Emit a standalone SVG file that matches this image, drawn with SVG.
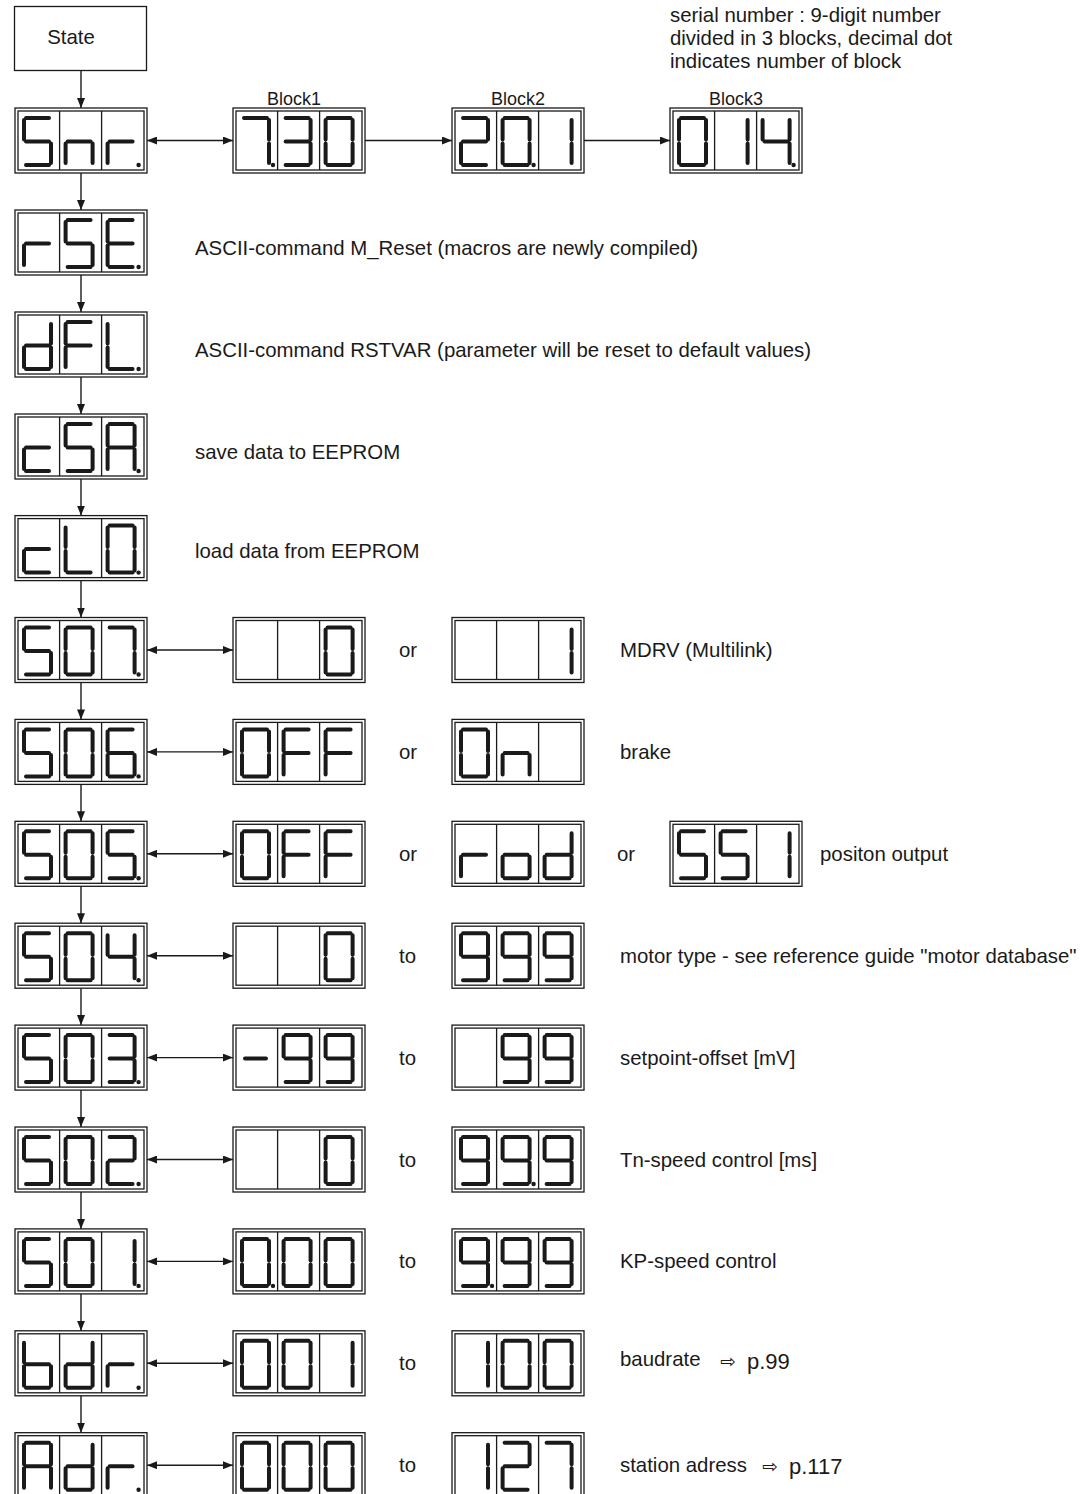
<svg xmlns="http://www.w3.org/2000/svg" width="1090" height="1494" viewBox="0 0 1090 1494">
<style>
.seg{fill:none;stroke:#1a1a1a;stroke-width:4;stroke-linecap:round}
.fr{fill:none;stroke:#1a1a1a;stroke-width:1.3}
.con{fill:none;stroke:#1a1a1a;stroke-width:1.4}
text{font-family:"Liberation Sans",Arial,sans-serif;font-size:20.4px;fill:#1a1a1a}
.blk{font-size:18px}
.sym{font-family:"DejaVu Sans",sans-serif;font-size:19px}
.pg{font-size:22px}
</style>
<defs>
<marker id="ah" viewBox="0 0 10 8" refX="10" refY="4" markerWidth="10" markerHeight="8" markerUnits="userSpaceOnUse" orient="auto-start-reverse"><path d="M0,0L10,4L0,8z" fill="#1a1a1a"/></marker>
<g id="fr"><rect x="0" y="0" width="132" height="65" class="fr"/><rect x="3" y="3" width="126" height="59" class="fr"/><path d="M44.6,3V62M86.6,3V62" class="fr"/></g>
<path id="g5" class="seg" d="M2,0H25M0,2V21.5M2,23.5H25M27,25.5V45M2,47H25"/>
<path id="gn" class="seg" d="M2,23.5H25M0,25.5V45M27,25.5V45"/>
<path id="gr" class="seg" d="M2,23.5H25M0,25.5V45"/>
<path id="g7" class="seg" d="M2,0H25M27,2V21.5M27,25.5V45"/>
<path id="g3" class="seg" d="M2,0H25M27,2V21.5M2,23.5H25M27,25.5V45M2,47H25"/>
<path id="g0" class="seg" d="M2,0H25M27,2V21.5M27,25.5V45M2,47H25M0,25.5V45M0,2V21.5"/>
<path id="g2" class="seg" d="M2,0H25M27,2V21.5M2,23.5H25M0,25.5V45M2,47H25"/>
<path id="g1" class="seg" d="M27,2V21.5M27,25.5V45"/>
<path id="g4" class="seg" d="M0,2V21.5M2,23.5H25M27,2V21.5M27,25.5V45"/>
<path id="gE" class="seg" d="M2,0H25M0,2V21.5M2,23.5H25M0,25.5V45M2,47H25"/>
<path id="gd" class="seg" d="M27,2V21.5M27,25.5V45M2,23.5H25M0,25.5V45M2,47H25"/>
<path id="gF" class="seg" d="M2,0H25M0,2V21.5M2,23.5H25M0,25.5V45"/>
<path id="gL" class="seg" d="M0,2V21.5M0,25.5V45M2,47H25"/>
<path id="gc" class="seg" d="M2,23.5H25M0,25.5V45M2,47H25"/>
<path id="gA" class="seg" d="M2,0H25M27,2V21.5M27,25.5V45M0,25.5V45M0,2V21.5M2,23.5H25"/>
<path id="g6" class="seg" d="M2,0H25M0,2V21.5M2,23.5H25M0,25.5V45M2,47H25M27,25.5V45"/>
<path id="g9" class="seg" d="M2,0H25M27,2V21.5M27,25.5V45M2,47H25M0,2V21.5M2,23.5H25"/>
<path id="gm" class="seg" d="M3,23.5H24"/>
<path id="go" class="seg" d="M2,23.5H25M27,25.5V45M2,47H25M0,25.5V45"/>
<path id="gb" class="seg" d="M0,2V21.5M0,25.5V45M2,23.5H25M27,25.5V45M2,47H25"/>
<circle id="dt" cx="31" cy="47" r="2.2" fill="#1a1a1a"/>
</defs>
<rect width="1090" height="1494" fill="#fff"/>

<g id="state"><rect x="14.5" y="6.5" width="132" height="64" class="fr"/><text x="71" y="44" text-anchor="middle">State</text></g>

<g id="note"><text x="670" y="22">serial number : 9-digit number</text><text x="670" y="45">divided in 3 blocks, decimal dot</text><text x="670" y="68">indicates number of block</text></g>

<g id="labels">
<text class="blk" x="294" y="105" text-anchor="middle">Block1</text>
<text class="blk" x="518" y="105" text-anchor="middle">Block2</text>
<text class="blk" x="736" y="105" text-anchor="middle">Block3</text>
</g>

<g id="connectors">
<path class="con" marker-end="url(#ah)" d="M81,70.5V108"/>
<path class="con" marker-end="url(#ah)" d="M81,173V210"/>
<path class="con" marker-end="url(#ah)" d="M81,275V312"/>
<path class="con" marker-end="url(#ah)" d="M81,377V414"/>
<path class="con" marker-end="url(#ah)" d="M81,479V515.6"/>
<path class="con" marker-end="url(#ah)" d="M81,580.6V617.5"/>
<path class="con" marker-end="url(#ah)" d="M81,682.5V719.4"/>
<path class="con" marker-end="url(#ah)" d="M81,784.4V821.3"/>
<path class="con" marker-end="url(#ah)" d="M81,886.3V923.2"/>
<path class="con" marker-end="url(#ah)" d="M81,988.2V1025.1"/>
<path class="con" marker-end="url(#ah)" d="M81,1090.1V1127"/>
<path class="con" marker-end="url(#ah)" d="M81,1192V1228.9"/>
<path class="con" marker-end="url(#ah)" d="M81,1293.9V1330.8"/>
<path class="con" marker-end="url(#ah)" d="M81,1395.8V1432.7"/>
<path class="con" marker-start="url(#ah)" marker-end="url(#ah)" d="M147,140.5H233"/>
<path class="con" marker-end="url(#ah)" d="M365,140.5H452"/>
<path class="con" marker-end="url(#ah)" d="M584,140.5H670"/>
<path class="con" marker-start="url(#ah)" marker-end="url(#ah)" d="M147,650H233"/>
<path class="con" marker-start="url(#ah)" marker-end="url(#ah)" d="M147,751.9H233"/>
<path class="con" marker-start="url(#ah)" marker-end="url(#ah)" d="M147,853.8H233"/>
<path class="con" marker-start="url(#ah)" marker-end="url(#ah)" d="M147,955.7H233"/>
<path class="con" marker-start="url(#ah)" marker-end="url(#ah)" d="M147,1057.6H233"/>
<path class="con" marker-start="url(#ah)" marker-end="url(#ah)" d="M147,1159.5H233"/>
<path class="con" marker-start="url(#ah)" marker-end="url(#ah)" d="M147,1261.4H233"/>
<path class="con" marker-start="url(#ah)" marker-end="url(#ah)" d="M147,1363.3H233"/>
<path class="con" marker-start="url(#ah)" marker-end="url(#ah)" d="M147,1465.2H233"/>
</g>

<!-- row 0 -->
<g id="snr" transform="translate(15,108)"><use href="#fr"/><use href="#g5" x="9" y="10"/><use href="#gn" x="50.6" y="10"/><use href="#gr" x="92.6" y="10"/><use href="#dt" x="92.6" y="10"/></g>
<g id="block1" transform="translate(233,108)"><use href="#fr"/><use href="#g7" x="9" y="10"/><use href="#dt" x="9" y="10"/><use href="#g3" x="50.6" y="10"/><use href="#g0" x="92.6" y="10"/></g>
<g id="block2" transform="translate(452,108)"><use href="#fr"/><use href="#g2" x="9" y="10"/><use href="#g0" x="50.6" y="10"/><use href="#dt" x="50.6" y="10"/><use href="#g1" x="92.6" y="10"/></g>
<g id="block3" transform="translate(670,108)"><use href="#fr"/><use href="#g0" x="9" y="10"/><use href="#g1" x="50.6" y="10"/><use href="#g4" x="92.6" y="10"/><use href="#dt" x="92.6" y="10"/></g>

<!-- row 1-4 -->
<g id="rse" transform="translate(15,210)"><use href="#fr"/><use href="#gr" x="9" y="10"/><use href="#g5" x="50.6" y="10"/><use href="#gE" x="92.6" y="10"/><use href="#dt" x="92.6" y="10"/></g>
<text x="195" y="254.5">ASCII-command M_Reset (macros are newly compiled)</text>
<g id="dfl" transform="translate(15,312)"><use href="#fr"/><use href="#gd" x="9" y="10"/><use href="#gF" x="50.6" y="10"/><use href="#gL" x="92.6" y="10"/><use href="#dt" x="92.6" y="10"/></g>
<text x="195" y="356.5">ASCII-command RSTVAR (parameter will be reset to default values)</text>
<g id="csa" transform="translate(15,414)"><use href="#fr"/><use href="#gc" x="9" y="10"/><use href="#g5" x="50.6" y="10"/><use href="#gA" x="92.6" y="10"/><use href="#dt" x="92.6" y="10"/></g>
<text x="195" y="458.5">save data to EEPROM</text>
<g id="cl0" transform="translate(15,515.6)"><use href="#fr"/><use href="#gc" x="9" y="10"/><use href="#gL" x="50.6" y="10"/><use href="#g0" x="92.6" y="10"/><use href="#dt" x="92.6" y="10"/></g>
<text x="195" y="558">load data from EEPROM</text>

<!-- row 5 S07 -->
<g id="s07" transform="translate(15,617.5)"><use href="#fr"/><use href="#g5" x="9" y="10"/><use href="#g0" x="50.6" y="10"/><use href="#g7" x="92.6" y="10"/><use href="#dt" x="92.6" y="10"/></g>
<g id="s07a" transform="translate(233,617.5)"><use href="#fr"/><use href="#g0" x="92.6" y="10"/></g>
<text x="399" y="657">or</text>
<g id="s07b" transform="translate(452,617.5)"><use href="#fr"/><use href="#g1" x="92.6" y="10"/></g>
<text x="620" y="657">MDRV (Multilink)</text>

<!-- row 6 S06 -->
<g id="s06" transform="translate(15,719.4)"><use href="#fr"/><use href="#g5" x="9" y="10"/><use href="#g0" x="50.6" y="10"/><use href="#g6" x="92.6" y="10"/><use href="#dt" x="92.6" y="10"/></g>
<g id="s06a" transform="translate(233,719.4)"><use href="#fr"/><use href="#g0" x="9" y="10"/><use href="#gF" x="50.6" y="10"/><use href="#gF" x="92.6" y="10"/></g>
<text x="399" y="759">or</text>
<g id="s06b" transform="translate(452,719.4)"><use href="#fr"/><use href="#g0" x="9" y="10"/><use href="#gn" x="50.6" y="10"/></g>
<text x="620" y="759">brake</text>

<!-- row 7 S05 -->
<g id="s05" transform="translate(15,821.3)"><use href="#fr"/><use href="#g5" x="9" y="10"/><use href="#g0" x="50.6" y="10"/><use href="#g5" x="92.6" y="10"/><use href="#dt" x="92.6" y="10"/></g>
<g id="s05a" transform="translate(233,821.3)"><use href="#fr"/><use href="#g0" x="9" y="10"/><use href="#gF" x="50.6" y="10"/><use href="#gF" x="92.6" y="10"/></g>
<text x="399" y="861">or</text>
<g id="s05b" transform="translate(452,821.3)"><use href="#fr"/><use href="#gr" x="9" y="10"/><use href="#go" x="50.6" y="10"/><use href="#gd" x="92.6" y="10"/></g>
<text x="617" y="861">or</text>
<g id="s05c" transform="translate(670,821.3)"><use href="#fr"/><use href="#g5" x="9" y="10"/><use href="#g5" x="50.6" y="10"/><use href="#g1" x="92.6" y="10"/></g>
<text x="820" y="861">positon output</text>

<!-- row 8 S04 -->
<g id="s04" transform="translate(15,923.2)"><use href="#fr"/><use href="#g5" x="9" y="10"/><use href="#g0" x="50.6" y="10"/><use href="#g4" x="92.6" y="10"/><use href="#dt" x="92.6" y="10"/></g>
<g id="s04a" transform="translate(233,923.2)"><use href="#fr"/><use href="#g0" x="92.6" y="10"/></g>
<text x="399" y="963">to</text>
<g id="s04b" transform="translate(452,923.2)"><use href="#fr"/><use href="#g9" x="9" y="10"/><use href="#g9" x="50.6" y="10"/><use href="#g9" x="92.6" y="10"/></g>
<text x="620" y="963">motor type - see reference guide "motor database"</text>

<!-- row 9 S03 -->
<g id="s03" transform="translate(15,1025.1)"><use href="#fr"/><use href="#g5" x="9" y="10"/><use href="#g0" x="50.6" y="10"/><use href="#g3" x="92.6" y="10"/><use href="#dt" x="92.6" y="10"/></g>
<g id="s03a" transform="translate(233,1025.1)"><use href="#fr"/><use href="#gm" x="9" y="10"/><use href="#g9" x="50.6" y="10"/><use href="#g9" x="92.6" y="10"/></g>
<text x="399" y="1064.6">to</text>
<g id="s03b" transform="translate(452,1025.1)"><use href="#fr"/><use href="#g9" x="50.6" y="10"/><use href="#g9" x="92.6" y="10"/></g>
<text x="620" y="1064.6">setpoint-offset [mV]</text>

<!-- row 10 S02 -->
<g id="s02" transform="translate(15,1127)"><use href="#fr"/><use href="#g5" x="9" y="10"/><use href="#g0" x="50.6" y="10"/><use href="#g2" x="92.6" y="10"/><use href="#dt" x="92.6" y="10"/></g>
<g id="s02a" transform="translate(233,1127)"><use href="#fr"/><use href="#g0" x="92.6" y="10"/></g>
<text x="399" y="1166.5">to</text>
<g id="s02b" transform="translate(452,1127)"><use href="#fr"/><use href="#g9" x="9" y="10"/><use href="#g9" x="50.6" y="10"/><use href="#dt" x="50.6" y="10"/><use href="#g9" x="92.6" y="10"/></g>
<text x="620" y="1166.5">Tn-speed control [ms]</text>

<!-- row 11 S01 -->
<g id="s01" transform="translate(15,1228.9)"><use href="#fr"/><use href="#g5" x="9" y="10"/><use href="#g0" x="50.6" y="10"/><use href="#g1" x="92.6" y="10"/><use href="#dt" x="92.6" y="10"/></g>
<g id="s01a" transform="translate(233,1228.9)"><use href="#fr"/><use href="#g0" x="9" y="10"/><use href="#dt" x="9" y="10"/><use href="#g0" x="50.6" y="10"/><use href="#g0" x="92.6" y="10"/></g>
<text x="399" y="1268.4">to</text>
<g id="s01b" transform="translate(452,1228.9)"><use href="#fr"/><use href="#g9" x="9" y="10"/><use href="#dt" x="9" y="10"/><use href="#g9" x="50.6" y="10"/><use href="#g9" x="92.6" y="10"/></g>
<text x="620" y="1268.4">KP-speed control</text>

<!-- row 12 bdr -->
<g id="bdr" transform="translate(15,1330.8)"><use href="#fr"/><use href="#gb" x="9" y="10"/><use href="#gd" x="50.6" y="10"/><use href="#gr" x="92.6" y="10"/><use href="#dt" x="92.6" y="10"/></g>
<g id="bdra" transform="translate(233,1330.8)"><use href="#fr"/><use href="#g0" x="9" y="10"/><use href="#g0" x="50.6" y="10"/><use href="#g1" x="92.6" y="10"/></g>
<text x="399" y="1370.3">to</text>
<g id="bdrb" transform="translate(452,1330.8)"><use href="#fr"/><use href="#g1" x="9" y="10"/><use href="#g0" x="50.6" y="10"/><use href="#g0" x="92.6" y="10"/></g>
<text x="620" y="1366">baudrate</text>
<text class="sym" x="720" y="1368">⇨</text>
<text class="pg" x="747" y="1369">p.99</text>

<!-- row 13 Adr -->
<g id="adr" transform="translate(15,1432.7)"><use href="#fr"/><use href="#gA" x="9" y="10"/><use href="#gd" x="50.6" y="10"/><use href="#gr" x="92.6" y="10"/><use href="#dt" x="92.6" y="10"/></g>
<g id="adra" transform="translate(233,1432.7)"><use href="#fr"/><use href="#g0" x="9" y="10"/><use href="#g0" x="50.6" y="10"/><use href="#g0" x="92.6" y="10"/></g>
<text x="399" y="1472.2">to</text>
<g id="adrb" transform="translate(452,1432.7)"><use href="#fr"/><use href="#g1" x="9" y="10"/><use href="#g2" x="50.6" y="10"/><use href="#g7" x="92.6" y="10"/></g>
<text x="620" y="1472.2">station adress</text>
<text class="sym" x="762" y="1473">⇨</text>
<text class="pg" x="789" y="1474">p.117</text>
</svg>
